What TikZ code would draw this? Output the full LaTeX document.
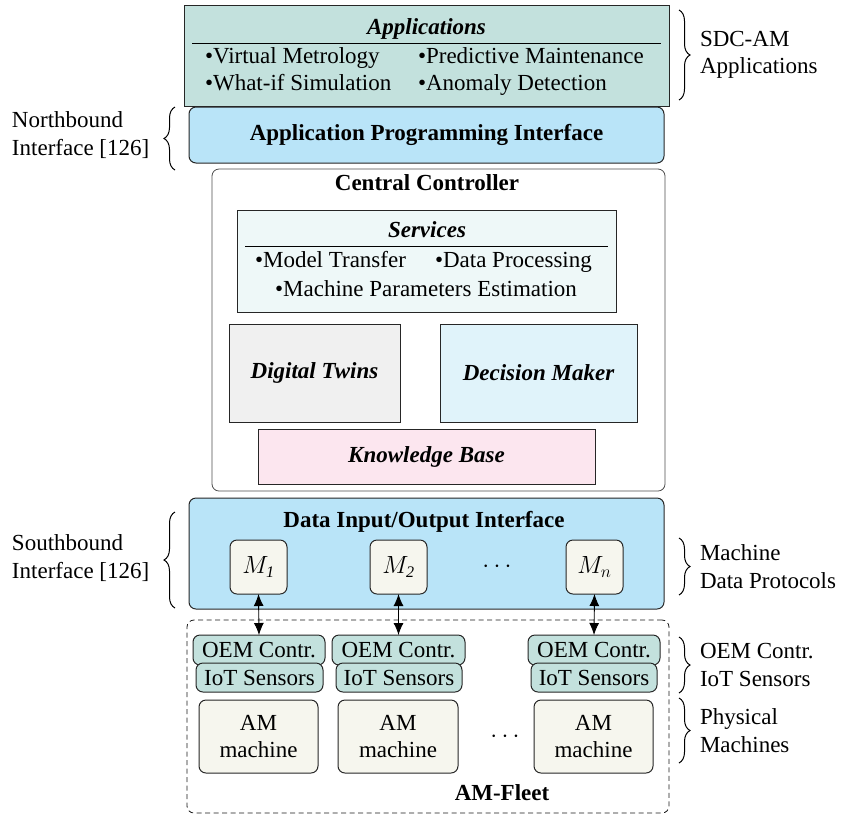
\documentclass[tikz,border=0pt]{standalone}
\usepackage{fontspec}
\setmainfont{Liberation Serif}
\usetikzlibrary{decorations.pathreplacing,arrows.meta}

\definecolor{tealbox}{HTML}{C3E1DD}
\definecolor{ifblue}{HTML}{B9E4F8}
\definecolor{svcfill}{HTML}{EEF8F8}
\definecolor{twinfill}{HTML}{F0F0F0}
\definecolor{decfill}{HTML}{E0F3FA}
\definecolor{kbfill}{HTML}{FCE6EF}
\definecolor{cream}{HTML}{F6F6EE}

\begin{document}
\begin{tikzpicture}[x=1pt,y=-1pt,
  every node/.style={font=\fontsize{23}{27.5}\selectfont},
  box/.style={draw=black!85, line width=1pt, inner sep=0pt, outer sep=0pt},
  roundbox/.style={box, rounded corners=7pt},
  txt/.style={inner sep=0pt, outer sep=0pt},
  ttl/.style={txt, font=\fontsize{23}{27.5}\selectfont\bfseries},
  ittl/.style={txt, font=\fontsize{23}{27.5}\selectfont\bfseries\itshape},
  lbl/.style={txt, align=left},
  brc/.style={decorate, decoration={brace, amplitude=11pt}, line width=1pt},
  link/.style={line width=0.9pt, {Latex[length=12pt,width=10pt]}-{Latex[length=12pt,width=10pt]}}
]
\useasboundingbox (0,0) rectangle (842,815);

% ---------- applications layer ----------
\node[box, fill=tealbox, minimum width=485, minimum height=101] (app) at (426.5,55.5) {};
\node[ittl, anchor=base] (apptitle) at (426.5,34) {Applications};
\draw[line width=0.8pt] (192,43) -- (661,43);
\node[txt, anchor=base west] (vm) at (205,63) {•Virtual Metrology};
\node[txt, anchor=base west] (wi) at (205,90) {•What-if Simulation};
\node[txt, anchor=base west] (pm) at (418,63) {•Predictive Maintenance};
\node[txt, anchor=base west] (ad) at (418,90) {•Anomaly Detection};

\node[roundbox, fill=ifblue, minimum width=475, minimum height=56] (api) at (426.5,135) {};
\node[ttl] at (api.center) {Application Programming Interface};

% ---------- central controller ----------
\node[roundbox, draw=black!70, line width=0.8pt, minimum width=453, minimum height=322] (cc) at (438.5,330) {};
\node[ttl, anchor=base] (cctitle) at (427,190) {Central Controller};

\node[box, fill=svcfill, minimum width=379, minimum height=102] (svc) at (426.5,261) {};
\node[ittl, anchor=base] (svctitle) at (427,237) {Services};
\draw[line width=0.8pt] (245,246) -- (608,246);
\node[txt, anchor=base west] (mt) at (255,267) {•Model Transfer};
\node[txt, anchor=base west] (dp) at (435,267) {•Data Processing};
\node[txt, anchor=base] (mpe) at (426,296) {•Machine Parameters Estimation};

\node[box, fill=twinfill, minimum width=171, minimum height=98] (dt) at (314.5,373) {};
\node[ittl] at (dt.center) {Digital Twins};
\node[box, fill=decfill, minimum width=197, minimum height=98] (dm) at (538.5,373) {};
\node[ittl] at (dm.center) {Decision Maker};
\node[box, fill=kbfill, minimum width=337, minimum height=55] (kb) at (426.5,456.5) {};
\node[ittl] at (kb.center) {Knowledge Base};

% ---------- southbound interface ----------
\node[roundbox, fill=ifblue, minimum width=475, minimum height=111] (dio) at (426.5,553.5) {};
\node[ttl, anchor=base] (diotitle) at (424,527) {Data Input/Output Interface};

\tikzset{mbox/.style={roundbox, fill=cream, minimum width=57, minimum height=54}}
\node[mbox] (m1) at (258.5,567) {$M_{\mathit{1}}$};
\node[mbox] (m2) at (398.5,567) {$M_{\mathit{2}}$};
\node[mbox] (mn) at (594.5,567) {$M_{n}$};
\node[txt] (mdots) at (497,567) {$\cdots$};

% ---------- AM fleet ----------
\node[roundbox, draw=black!90, line width=0.8pt, dash pattern=on 5pt off 3.5pt, minimum width=482, minimum height=193] (fleet) at (428,716.5) {};
\node[ttl, anchor=base] (fleettitle) at (502,800) {AM-Fleet};

\tikzset{oem/.style={roundbox, fill=tealbox, minimum height=30},
         iot/.style={roundbox, fill=tealbox, minimum height=29},
         am/.style={roundbox, fill=cream, minimum width=119, minimum height=73, align=center}}
\node[oem, minimum width=132] (oem1) at (259,650) {OEM Contr.};
\node[oem, minimum width=133] (oem2) at (398.5,650) {OEM Contr.};
\node[oem, minimum width=132] (oem3) at (594,650) {OEM Contr.};
\node[iot, minimum width=127] (iot1) at (259.5,677.5) {IoT Sensors};
\node[iot, minimum width=126] (iot2) at (399,677.5) {IoT Sensors};
\node[iot, minimum width=126] (iot3) at (594,677.5) {IoT Sensors};
\node[am] (am1) at (258.5,736.5) {AM\\machine};
\node[am, minimum width=120] (am2) at (398,736.5) {AM\\machine};
\node[am] (am3) at (593.5,736.5) {AM\\machine};
\node[txt] (amdots) at (505,737) {$\cdots$};

% machine links
\draw[link] (m1.south) -- (oem1.north);
\draw[link] (m2.south) -- (oem2.north);
\draw[link] (mn.south) -- (oem3.north);

% ---------- side annotations ----------
\coordinate (b1a) at (679,10);  \coordinate (b1b) at (679,100);
\coordinate (b2a) at (679,538); \coordinate (b2b) at (679,595);
\coordinate (b3a) at (679,637); \coordinate (b3b) at (679,693);
\coordinate (b4a) at (679,698); \coordinate (b4b) at (679,763);
\draw[brc] (b1a) -- (b1b) node[lbl, midway, anchor=west, xshift=21pt] (sdc) {SDC-AM\\Applications};
\draw[brc] (b2a) -- (b2b) node[lbl, midway, anchor=west, xshift=21pt] (mdp) {Machine\\Data Protocols};
\draw[brc] (b3a) -- (b3b) node[lbl, midway, anchor=west, xshift=21pt] (oemlbl) {OEM Contr.\\IoT Sensors};
\draw[brc] (b4a) -- (b4b) node[lbl, midway, anchor=west, xshift=21pt] (phys) {Physical\\Machines};

\coordinate (n1a) at (175,170); \coordinate (n1b) at (175,107);
\coordinate (s1a) at (175,608); \coordinate (s1b) at (175,512);
\draw[brc] (n1a) -- (n1b);
\draw[brc] (s1a) -- (s1b);
\node[lbl, anchor=west] (nb) at (12,135) {Northbound\\Interface [126]};
\node[lbl, anchor=west] (sb) at (12,558) {Southbound\\Interface [126]};
\end{tikzpicture}
\end{document}
